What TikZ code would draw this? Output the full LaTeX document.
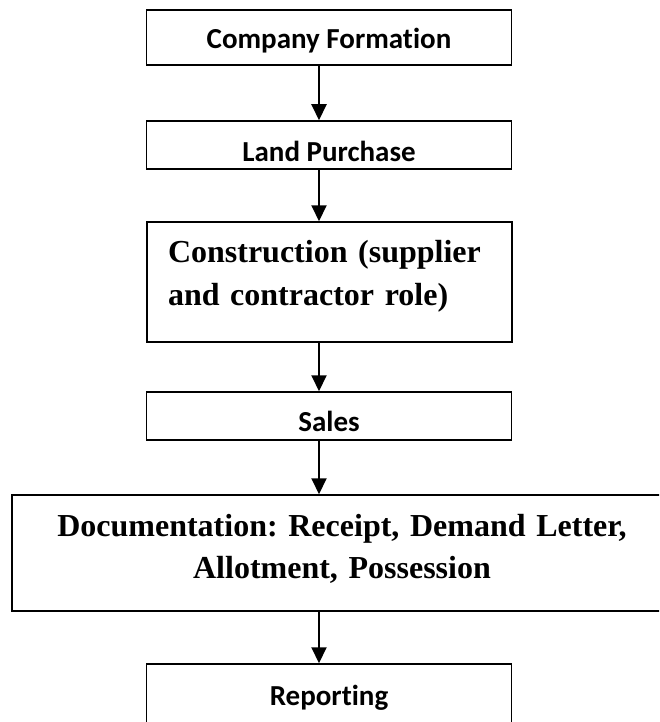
\documentclass[tikz,border=0pt]{standalone}
\usepackage{fontspec}
\setmainfont{Liberation Serif}
\newfontfamily\calibri[Ligatures=NoCommon]{Carlito}
\usetikzlibrary{arrows.meta,positioning}
\frenchspacing

\begin{document}
\begin{tikzpicture}
    [
        x=1pt, y=-1pt,
        Stage1/.style={rectangle,minimum width=365pt,inner xsep=0pt,inner ysep=0pt,draw,line width=1.5pt,align=center,font=\calibri\bfseries\fontsize{29}{35}\selectfont},
        Stage2/.style={rectangle,inner xsep=21pt,inner ysep=0pt,text width=323pt,draw,line width=1.5pt,align=left,font=\bfseries\fontsize{32}{43}\selectfont},
        Stage3/.style={rectangle,inner xsep=10pt,inner ysep=0pt,text width=640pt,draw,line width=1.5pt,align=center,font=\bfseries\fontsize{32}{42}\selectfont},
        Flow/.style={line width=2pt,-{Triangle[width=15pt,length=16pt]}}
    ]

    \clip (0,0) rectangle (659,722);

    \node[Stage1,text height=39pt,text depth=16pt] (company_formation) at (329,37.5) {Company Formation};
    \node[Stage1,text height=41pt,text depth=7pt] (land_purchase) at (329,145) {Land Purchase};
    \node[Stage2,text height=40pt,text depth=80pt] (construction) at (329.5,282) {Construction (supplier\\and contractor role)};
    \node[Stage1,text height=39pt,text depth=9pt] (sales) at (329,416) {Sales};
    \node[Stage3,text height=41pt,text depth=75pt] (documentation) at (342,553) {Documentation: Receipt, Demand Letter,\\Allotment, Possession};
    \node[Stage1,text height=41pt,text depth=30pt] (reporting) at (329,699.5) {Reporting};

    \draw[Flow] ([xshift=-10pt]company_formation.south) -- ([xshift=-10pt]land_purchase.north);
    \draw[Flow] ([xshift=-10pt]land_purchase.south) -- ([xshift=-10.5pt]construction.north);
    \draw[Flow] ([xshift=-10.5pt]construction.south) -- ([xshift=-10pt]sales.north);
    \draw[Flow] ([xshift=-10pt]sales.south) -- ([xshift=-10pt]sales.south |- documentation.north);
    \draw[Flow] ([xshift=-10pt]reporting.north |- documentation.south) -- ([xshift=-10pt]reporting.north);
\end{tikzpicture}
\end{document}
